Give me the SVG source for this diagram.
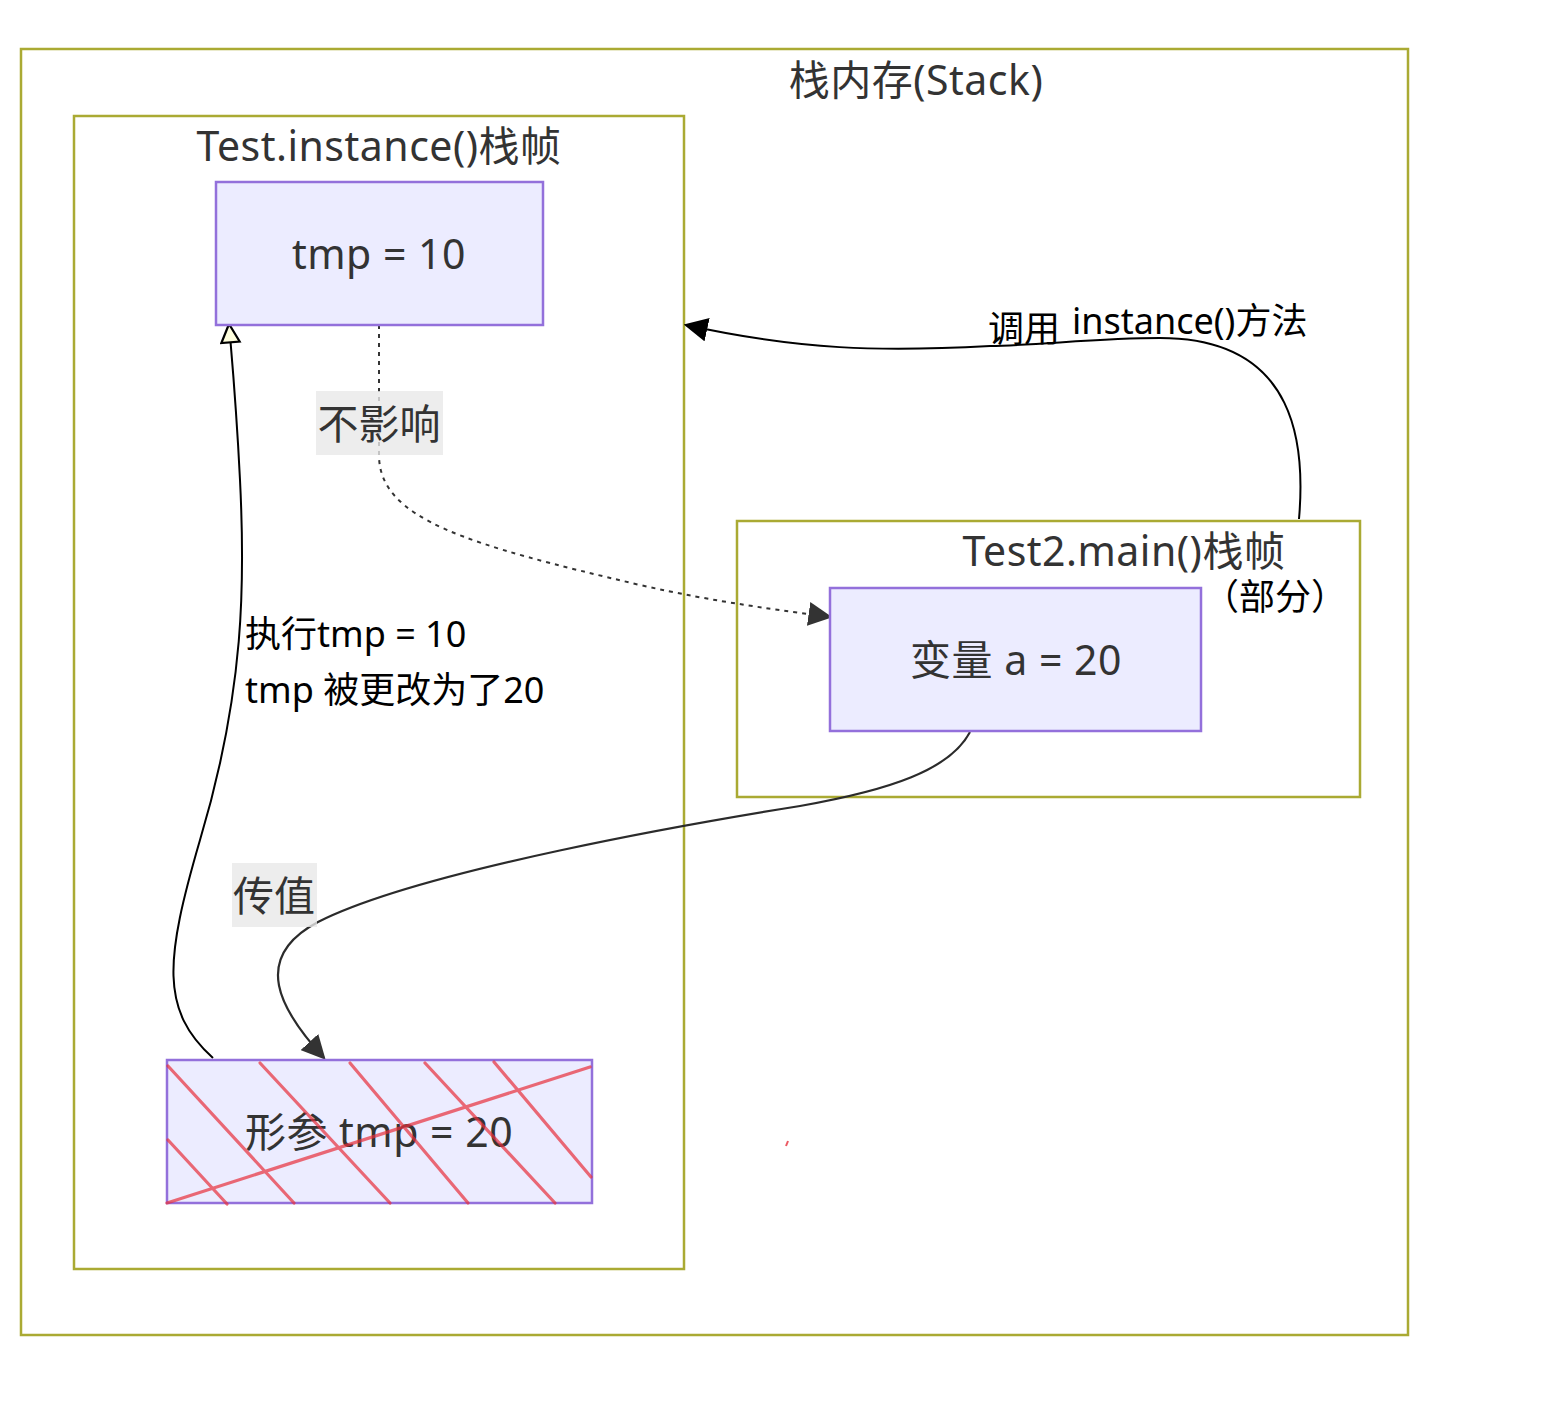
<svg xmlns="http://www.w3.org/2000/svg" width="1552" height="1407" viewBox="0 0 1552 1407">
<defs>
<style>
text{font-family:"Noto Sans","Noto Sans CJK SC",sans-serif;}
.cluster{fill:none;stroke:#aaaa33;stroke-width:2.5;}
.node{fill:#ECECFF;stroke:#9370DB;stroke-width:2.5;}
.title{fill:#333;font-size:41px;text-anchor:middle;letter-spacing:0.5px;}
.nlabel{fill:#333;font-size:41px;text-anchor:middle;dominant-baseline:central;letter-spacing:0.5px;}
.elabel{fill:#000;font-size:36px;}
.lbg{fill:#e8e8e8;opacity:0.8;}
.edge{fill:none;stroke:#333;stroke-width:2;}
.hatch{stroke:#e8303c;stroke-width:3.2;opacity:0.7;stroke-linecap:round;}
</style>
<marker id="arrBig" viewBox="0 0 10 10" refX="9" refY="5" markerWidth="24" markerHeight="24" markerUnits="userSpaceOnUse" orient="auto">
<path d="M0,0 L10,5 L0,10 z" fill="#333"/>
</marker>
<marker id="arrBlack" viewBox="0 0 10 10" refX="9" refY="5" markerWidth="24" markerHeight="24" markerUnits="userSpaceOnUse" orient="auto">
<path d="M0,0 L10,5 L0,10 z" fill="#000"/>
</marker>
<marker id="arrOpen" viewBox="0 0 12 12" refX="11" refY="6" markerWidth="22" markerHeight="22" markerUnits="userSpaceOnUse" orient="auto">
<path d="M1,1 L11,6 L1,11 z" fill="#ffffde" stroke="#000" stroke-width="1.2"/>
</marker>
</defs>
<rect width="1552" height="1407" fill="#fff"/>

<g id="cluster-stack">
<rect class="cluster" x="21" y="49" width="1387" height="1286"/>
<text class="title" x="916" y="95">栈内存(Stack)</text>
</g>
<g id="cluster-instance">
<rect class="cluster" x="74" y="116" width="610" height="1153"/>
<text class="title" x="379" y="161">Test.instance()栈帧</text>
</g>
<g id="cluster-main">
<rect class="cluster" x="737" y="521" width="623" height="276"/>
<text class="title" x="1124" y="566">Test2.main()栈帧</text>
<text x="1275" y="610" style="fill:#000;font-size:36px;text-anchor:middle;">（部分）</text>
</g>

<g id="connectors">
<path class="edge" d="M379,325 L379,455 C379,520 470,545 640,585 C720,603 780,610 830,617" stroke-dasharray="4,5" marker-end="url(#arrBig)"/>
<path class="edge" style="stroke:#000" d="M1299,519 C1305,450 1300,338 1160,338 C1100,338 1040,345 990,346 C880,352 800,350 686,325" marker-end="url(#arrBlack)"/>
<path class="edge" style="stroke:#2b2b2b;stroke-width:2.2" d="M970,732 C950,770 890,790 800,806 C700,822 420,870 318,922 C250,958 280,1010 324,1058" marker-end="url(#arrBig)"/>
<path class="edge" style="stroke:#000" d="M213,1058 C160,1010 165,960 200,840 C245,690 245,580 240,480 C236,400 232,360 229,324" marker-end="url(#arrOpen)"/>
</g>

<g id="edge-labels">
<rect class="lbg" x="316" y="391" width="127" height="64"/>
<text x="379" y="423" style="fill:#333;font-size:41px;text-anchor:middle;dominant-baseline:central;">不影响</text>
<text class="elabel" x="988" y="342">调用<tspan x="1072" y="334">instance()方法</tspan></text>
<text class="elabel" x="245" y="647">执行tmp = 10</text>
<text class="elabel" x="245" y="703">tmp 被更改为了20</text>
<rect class="lbg" x="232" y="863" width="85" height="64"/>
<text x="274" y="895" style="fill:#333;font-size:41px;text-anchor:middle;dominant-baseline:central;">传值</text>
</g>

<g id="node-tmp10">
<rect class="node" x="216" y="182" width="327" height="143"/>
<text class="nlabel" x="379" y="253">tmp = 10</text>
</g>
<g id="node-var-a">
<rect class="node" x="830" y="588" width="371" height="143"/>
<text class="nlabel" x="1016" y="659">变量 a = 20</text>
</g>
<g id="node-param">
<rect class="node" x="167" y="1060" width="425" height="143"/>
<text class="nlabel" x="379" y="1131">形参 tmp = 20</text>
<g class="hatch">
<line x1="168" y1="1066" x2="294" y2="1203"/>
<line x1="260" y1="1063" x2="390" y2="1203"/>
<line x1="350" y1="1063" x2="468" y2="1203"/>
<line x1="425" y1="1063" x2="555" y2="1203"/>
<line x1="494" y1="1062" x2="591" y2="1177"/>
<line x1="168" y1="1140" x2="227" y2="1204"/>
<line x1="167" y1="1203" x2="590" y2="1067"/>
</g>
</g>
<line x1="786" y1="1146" x2="788" y2="1141" stroke="#e8303c" stroke-width="2" opacity="0.8"/>
</svg>
